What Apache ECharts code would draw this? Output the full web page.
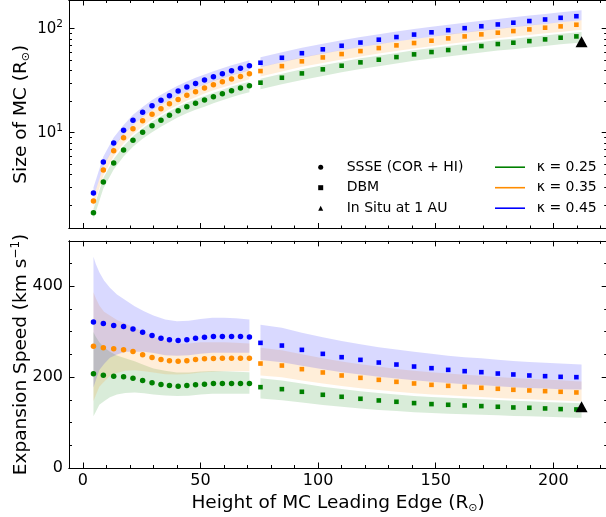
<!DOCTYPE html>
<html>
<head>
<meta charset="utf-8">
<script src="https://cdn.jsdelivr.net/npm/echarts@6/dist/echarts.min.js"></script>
<style>
  html, body { margin: 0; padding: 0; background: #fff; }
  #chart { width: 606px; height: 517px; }
</style>
</head>
<body>
<div id="chart"></div>
<script>
// ---- Heights of the MC leading edge (R_sun) ----
const xSsse = [4.5, 8.7, 13.1, 17.3, 21.3, 25.4, 29.4, 33.2, 36.8, 40.5, 44.2, 47.9, 51.7, 55.5, 59.3, 63.2, 67.0, 70.8];
const xDbm = [75.5, 84.6, 93.1, 102.0, 110.0, 118.0, 125.8, 133.3, 140.8, 148.2, 155.3, 162.3, 169.4, 176.4, 183.0, 189.8, 196.5, 203.1, 209.8];
const xInSitu = [212];

// ---- Size of MC (R_sun) ----
const sizeSsse25 = [1.70, 3.36, 5.11, 6.82, 8.45, 10.1, 11.7, 13.15, 14.7, 16.3, 17.8, 19.2, 20.6, 22.2, 23.7, 25.4, 26.9, 28.3];
const sizeSsse35 = [2.20, 4.38, 6.70, 8.93, 10.9, 13.05, 15.1, 17.0, 19.0, 20.9, 22.9, 24.8, 26.9, 28.9, 30.9, 32.8, 34.8, 36.9];
const sizeSsse45 = [2.63, 5.23, 7.96, 10.54, 13.15, 15.7, 18.2, 20.5, 22.7, 25.2, 27.5, 29.8, 32.1, 34.6, 36.9, 39.5, 41.6, 44.1];
const sizeDbm25 = [30.3, 33.8, 37.2, 40.7, 44.1, 47.5, 50.4, 53.4, 56.7, 59.7, 62.4, 65.2, 68.2, 71.3, 73.4, 76.1, 79.0, 82.0, 84.4];
const sizeDbm35 = [39.2, 43.7, 48.6, 53.0, 57.1, 61.0, 65.2, 69.2, 72.9, 76.7, 80.8, 84.4, 88.3, 91.6, 95.0, 98.6, 102.3, 105.4, 109.3];
const sizeDbm45 = [47.1, 52.6, 58.2, 63.4, 68.6, 73.7, 78.5, 83.2, 87.9, 92.4, 96.9, 101.3, 105.7, 110.0, 114.3, 118.6, 122.8, 127.4, 132.0];
const sizeInSitu = [75];

// ---- Expansion speed (km/s) ----
const speedSsse25 = [207.3, 204.4, 202.2, 200.7, 197.8, 192.7, 187.5, 183.9, 181.7, 180.2, 181.7, 183.2, 184.6, 186.1, 186.1, 186.1, 186.1, 186.1];
const speedSsse35 = [268.1, 264.5, 262.3, 260.1, 256.4, 249.1, 243.2, 238.8, 235.9, 235.2, 235.9, 238.8, 240.3, 241.0, 241.8, 241.8, 241.8, 241.8];
const speedSsse45 = [321.6, 318.0, 313.6, 311.4, 306.2, 298.9, 291.6, 285.7, 282.1, 280.6, 282.1, 285.7, 287.9, 289.4, 289.4, 289.4, 289.4, 288.6];
const speedDbm25 = [178.0, 173.6, 167.8, 161.2, 156.8, 152.4, 148.7, 145.8, 142.9, 140.7, 139.2, 137.7, 136.3, 134.8, 133.3, 132.6, 131.1, 129.7, 128.9];
const speedDbm35 = [230.0, 225.6, 217.6, 210.3, 203.7, 198.5, 194.1, 189.7, 186.1, 183.1, 180.9, 178.7, 176.6, 174.4, 172.2, 170.7, 169.2, 167.8, 166.3];
const speedDbm45 = [275.5, 269.6, 260.1, 251.3, 244.0, 238.1, 232.2, 227.8, 223.4, 219.8, 216.1, 213.2, 211.0, 208.0, 205.9, 203.7, 202.2, 200.7, 200.0];
const speedInSitu = [135];

// ---- Uncertainty envelopes ----
const bandXSsseSize = xSsse;
const bandXDbm = [75.5, 84.6, 93.1, 102.0, 110.0, 118.0, 125.8, 133.3, 140.8, 148.2, 155.3, 162.3, 169.4, 176.4, 183.0, 189.8, 196.5, 203.1, 209.8, 212.0];
const bandXSsseSpeed = [4.5, 5.5, 7, 9, 11.5, 14.5, 18, 22, 26, 30, 35, 40, 45, 50, 55, 60, 65, 70.8];

const sizeSsseHi25 = [1.86, 3.67, 5.59, 7.45, 9.24, 11.0, 12.8, 14.4, 16.1, 17.8, 19.5, 21.0, 22.5, 24.3, 25.9, 27.8, 29.4, 30.9];
const sizeSsseLo25 = [1.47, 2.91, 4.43, 5.91, 7.32, 8.75, 10.1, 11.4, 12.7, 14.1, 15.4, 16.6, 17.8, 19.2, 20.5, 22.0, 23.3, 24.5];
const sizeSsseHi35 = [2.40, 4.79, 7.32, 9.76, 11.9, 14.3, 16.5, 18.6, 20.8, 22.8, 25.0, 27.1, 29.4, 31.6, 33.8, 35.9, 38.0, 40.3];
const sizeSsseLo35 = [1.95, 3.88, 5.93, 7.90, 9.65, 11.5, 13.4, 15.0, 16.8, 18.5, 20.3, 21.9, 23.8, 25.6, 27.3, 29.0, 30.8, 32.7];
const sizeSsseHi45 = [2.97, 5.91, 8.99, 11.9, 14.9, 17.7, 20.6, 23.2, 25.7, 28.5, 31.1, 33.7, 36.3, 39.1, 41.7, 44.6, 47.0, 49.8];
const sizeSsseLo45 = [2.38, 4.73, 7.20, 9.54, 11.9, 14.2, 16.5, 18.6, 20.5, 22.8, 24.9, 27.0, 29.1, 31.3, 33.4, 35.7, 37.6, 39.9];

const sizeDbmHi25 = [33.1, 36.9, 40.7, 44.5, 48.2, 51.9, 55.1, 58.4, 62.0, 65.3, 68.2, 71.3, 74.5, 77.9, 80.2, 83.2, 86.3, 89.6, 92.2, 93.1];
const sizeDbmLo25 = [26.2, 29.3, 32.2, 35.2, 38.2, 41.1, 43.6, 46.2, 49.1, 51.7, 54.0, 56.5, 59.1, 61.7, 63.6, 65.9, 68.4, 71.0, 73.1, 73.8];
const sizeDbmHi35 = [42.8, 47.8, 53.1, 57.9, 62.4, 66.7, 71.3, 75.6, 79.7, 83.8, 88.3, 92.2, 96.5, 100.1, 103.8, 107.8, 111.8, 115.2, 119.5, 120.5];
const sizeDbmLo35 = [34.7, 38.7, 43.0, 46.9, 50.5, 54.0, 57.7, 61.2, 64.5, 67.9, 71.5, 74.7, 78.1, 81.1, 84.1, 87.3, 90.5, 93.3, 96.7, 97.5];
const sizeDbmHi45 = [53.2, 59.4, 65.8, 71.6, 77.5, 83.3, 88.7, 94.0, 99.3, 104.4, 109.5, 114.5, 119.4, 124.3, 129.2, 134.0, 138.8, 144.0, 149.2, 150.9];
const sizeDbmLo45 = [42.6, 47.6, 52.7, 57.4, 62.1, 66.7, 71.0, 75.3, 79.5, 83.6, 87.7, 91.7, 95.7, 99.6, 103.4, 107.3, 111.1, 115.3, 119.5, 120.8];

const speedSsseHi25 = [299.5, 289, 277, 266, 256, 247.5, 241.6, 235, 227, 219, 214, 210, 210.5, 212.5, 213.3, 213, 212, 211];
const speedSsseLo25 = [114, 124, 139, 147, 156, 161.6, 165.4, 166, 164.6, 162, 159.6, 158.4, 159.2, 161.6, 163.2, 163.7, 163.7, 163.7];
const speedSsseHi35 = [387, 374, 358, 344, 336, 326, 318, 309, 299, 289, 280, 274, 274, 277, 277, 277, 276, 274];
const speedSsseLo35 = [147, 160, 179, 190, 202.5, 209, 214, 215, 213, 210, 206.6, 205.8, 207, 210, 212, 213, 213, 213];
const speedSsseHi45 = [465, 449, 431, 413, 397, 382, 370, 356, 345, 336, 327, 323, 324, 328, 331, 331, 329.5, 327];
const speedSsseLo45 = [177, 193, 216, 229, 243, 250, 256, 256, 256, 253, 248, 247, 248, 251.5, 254, 254, 254, 254];

const speedDbmHi25 = [197.6, 192.7, 186.3, 178.9, 174, 169.2, 165.1, 161.8, 158.6, 156.2, 154.5, 152.8, 151.3, 149.6, 148, 147.2, 145.5, 144, 143.1, 142.7];
const speedDbmLo25 = [153.1, 149.3, 144.3, 138.6, 134.8, 131.1, 127.9, 125.4, 122.9, 121, 119.7, 118.4, 117.2, 115.9, 114.6, 114, 112.7, 111.5, 110.9, 110.6];
const speedDbmHi35 = [264.5, 259.4, 250.2, 241.8, 234.3, 228.3, 223.2, 218.2, 214, 210.6, 208, 205.5, 203.1, 200.6, 198, 196.3, 194.6, 193, 191.2, 190.7];
const speedDbmLo35 = [203.6, 199.7, 192.6, 186.1, 180.3, 175.7, 171.8, 167.9, 164.7, 162, 160.1, 158.1, 156.3, 154.3, 152.4, 151.1, 149.7, 148.5, 147.2, 146.7];
const speedDbmHi45 = [315.4, 308.7, 297.7, 287.7, 279.4, 272.6, 265.9, 260.8, 255.8, 251.7, 247.4, 244.1, 241.6, 238.2, 235.8, 233.2, 231.5, 229.8, 228.5, 228];
const speedDbmLo45 = [238, 233, 225, 217.4, 211, 206, 201, 197, 193.2, 190, 187, 184.4, 182.5, 180, 178, 176.2, 175, 173.6, 173, 172.7];

// ---- Tick positions ----
const xMajorTicks = [0, 50, 100, 150, 200];
const xMinorTicks = [10, 20, 30, 40, 60, 70, 80, 90, 110, 120, 130, 140, 160, 170, 180, 190, 210, 220];
const sizeMajorTicks = [10, 100];
const sizeMinorTicks = [2, 3, 4, 5, 6, 7, 8, 9, 20, 30, 40, 50, 60, 70, 80, 90];
const speedMajorTicks = [0, 200, 400];
const speedMinorTicks = [50, 100, 150, 250, 300, 350, 450];

const kappaNames = ['\u03ba = 0.25', '\u03ba = 0.35', '\u03ba = 0.45'];
const FONT = 'DejaVu Sans';
const GREEN = '0,128,0', ORANGE = '255,140,0', BLUE = '0,0,255';

const X_MIN = -5.9, X_MAX = 222.9;
const SIZE_MIN = 1.2, SIZE_MAX = 189;
const SPEED_MIN = 0, SPEED_MAX = 500;

const chart = echarts.init(document.getElementById('chart'), null, { renderer: 'canvas' });

const tickLine = { color: '#000', width: 1 };
const frameLine = { show: true, onZero: false, lineStyle: { color: '#000', width: 1 } };

function xAxisDef(gridIndex, position, ticks, len, labels, name) {
  const ax = {
    type: 'value', gridIndex, position, min: X_MIN, max: X_MAX,
    axisLine: frameLine,
    axisTick: { show: true, inside: true, length: len, customValues: ticks, lineStyle: tickLine },
    axisLabel: labels
      ? { show: true, customValues: ticks, margin: 5, fontFamily: FONT, fontSize: 16, color: '#000' }
      : { show: false },
    splitLine: { show: false }
  };
  if (name) {
    ax.name = name;
    ax.nameLocation = 'middle';
    ax.nameGap = 24;
    ax.nameMoveOverlap = false;
    ax.nameTextStyle = {
      fontFamily: FONT, fontSize: 18.5, color: '#000', lineHeight: 22,
      rich: { sub: { fontFamily: FONT, fontSize: 11, lineHeight: 11, verticalAlign: 'bottom', color: '#000' } }
    };
  }
  return ax;
}

function yAxisDef(gridIndex, position, type, min, max, ticks, len, label, name) {
  const ax = {
    type, gridIndex, position, min, max,
    axisLine: frameLine,
    axisTick: { show: true, inside: true, length: len, customValues: ticks, lineStyle: tickLine },
    axisLabel: label ? Object.assign({ show: true, customValues: ticks, margin: 6, fontFamily: FONT, fontSize: 16, color: '#000' }, label) : { show: false },
    splitLine: { show: false }
  };
  if (type === 'log') ax.logBase = 10;
  if (name) {
    ax.name = name;
    ax.nameLocation = 'middle';
    ax.nameGap = 37;
    ax.nameMoveOverlap = false;
    ax.nameTextStyle = {
      fontFamily: FONT, fontSize: 18.5, color: '#000', lineHeight: 22,
      rich: {
        sub: { fontFamily: FONT, fontSize: 11, lineHeight: 11, verticalAlign: 'bottom', color: '#000' },
        sup: { fontFamily: FONT, fontSize: 12, lineHeight: 12, verticalAlign: 'top', color: '#000' }
      }
    };
  }
  return ax;
}

// shaded envelope between lower and upper curves, one polygon per segment
function bandSeries(name, rgb, segments, axisIndex) {
  return {
    type: 'custom', name, xAxisIndex: axisIndex, yAxisIndex: axisIndex, silent: true,
    itemStyle: { color: 'rgb(' + rgb + ')' },
    data: segments.map((s, i) => [s.x[0], s.lo[0], i]),
    encode: { x: 0, y: 1 },
    renderItem(params, api) {
      const s = segments[api.value(2)];
      const pts = [];
      for (let k = 0; k < s.x.length; k++) pts.push(api.coord([s.x[k], s.hi[k]]));
      for (let k = s.x.length - 1; k >= 0; k--) pts.push(api.coord([s.x[k], s.lo[k]]));
      return { type: 'polygon', shape: { points: pts }, style: { fill: 'rgba(' + rgb + ',0.15)', stroke: null } };
    }
  };
}

function markerSeries(xs, ys, rgb, symbol, size, axisIndex, name) {
  return {
    type: 'scatter', name, xAxisIndex: axisIndex, yAxisIndex: axisIndex, silent: true,
    symbol, symbolSize: size, itemStyle: { color: 'rgb(' + rgb + ')', opacity: 1 },
    data: xs.map((x, i) => [x, ys[i]])
  };
}

const legendText = { fontFamily: FONT, fontSize: 14, color: '#000', lineHeight: 14 };

const option = {
  animation: false,
  backgroundColor: '#fff',
  grid: [
    { left: 69, top: 0, width: 538.2, height: 228.5, outerBoundsMode: 'none' },
    { left: 69, top: 240.9, width: 538.2, height: 227.1, outerBoundsMode: 'none' }
  ],
  xAxis: [
    xAxisDef(0, 'bottom', xMajorTicks, 5.5, false),
    xAxisDef(0, 'top', xMajorTicks, 5.5, false),
    xAxisDef(0, 'bottom', xMinorTicks, 3, false),
    xAxisDef(0, 'top', xMinorTicks, 3, false),
    xAxisDef(1, 'bottom', xMajorTicks, 5.5, true, 'Height of MC Leading Edge (R{sub|\u2299})'),
    xAxisDef(1, 'top', xMajorTicks, 5.5, false),
    xAxisDef(1, 'bottom', xMinorTicks, 3, false),
    xAxisDef(1, 'top', xMinorTicks, 3, false)
  ],
  yAxis: [
    yAxisDef(0, 'left', 'log', SIZE_MIN, SIZE_MAX, sizeMajorTicks, 5.5, {
      fontSize: 15, lineHeight: 20,
      formatter: v => '{b|10}{s|' + Math.round(Math.log10(v)) + '}',
      rich: {
        b: { fontFamily: FONT, fontSize: 15, lineHeight: 20, color: '#000' },
        s: { fontFamily: FONT, fontSize: 10.5, lineHeight: 10.5, verticalAlign: 'top', color: '#000' }
      }
    }, 'Size of MC (R{sub|\u2299})'),
    yAxisDef(0, 'right', 'log', SIZE_MIN, SIZE_MAX, sizeMajorTicks, 5.5, null),
    yAxisDef(0, 'left', 'log', SIZE_MIN, SIZE_MAX, sizeMinorTicks, 3, null),
    yAxisDef(0, 'right', 'log', SIZE_MIN, SIZE_MAX, sizeMinorTicks, 3, null),
    yAxisDef(1, 'left', 'value', SPEED_MIN, SPEED_MAX, speedMajorTicks, 5.5, {}, 'Expansion Speed (km s{sup|\u22121})'),
    yAxisDef(1, 'right', 'value', SPEED_MIN, SPEED_MAX, speedMajorTicks, 5.5, null),
    yAxisDef(1, 'left', 'value', SPEED_MIN, SPEED_MAX, speedMinorTicks, 3, null),
    yAxisDef(1, 'right', 'value', SPEED_MIN, SPEED_MAX, speedMinorTicks, 3, null)
  ],
  legend: [
    {
      orient: 'vertical', left: 318.2, top: 160.2, padding: 0, itemGap: 6.5,
      itemWidth: 5, itemHeight: 5, selectedMode: false,
      textStyle: Object.assign({ padding: [0, 0, 0, 18.5] }, legendText),
      data: [
        { name: 'SSSE (COR + HI)', icon: 'circle' },
        { name: 'DBM', icon: 'rect' },
        { name: 'In Situ at 1 AU', icon: 'triangle' }
      ]
    },
    {
      orient: 'vertical', left: 495, top: 160.2, padding: 0, itemGap: 6.5,
      itemWidth: 30, itemHeight: 1.6, selectedMode: false,
      textStyle: Object.assign({ padding: [0, 0, 0, 6.7] }, legendText),
      data: kappaNames.map(n => ({ name: n, icon: 'rect' }))
    }
  ],
  series: [
    // size panel envelopes
    bandSeries(kappaNames[0], GREEN, [
      { x: bandXSsseSize, hi: sizeSsseHi25, lo: sizeSsseLo25 },
      { x: bandXDbm, hi: sizeDbmHi25, lo: sizeDbmLo25 }], 0),
    bandSeries(kappaNames[1], ORANGE, [
      { x: bandXSsseSize, hi: sizeSsseHi35, lo: sizeSsseLo35 },
      { x: bandXDbm, hi: sizeDbmHi35, lo: sizeDbmLo35 }], 0),
    bandSeries(kappaNames[2], BLUE, [
      { x: bandXSsseSize, hi: sizeSsseHi45, lo: sizeSsseLo45 },
      { x: bandXDbm, hi: sizeDbmHi45, lo: sizeDbmLo45 }], 0),
    // speed panel envelopes
    bandSeries(kappaNames[0], GREEN, [
      { x: bandXSsseSpeed, hi: speedSsseHi25, lo: speedSsseLo25 },
      { x: bandXDbm, hi: speedDbmHi25, lo: speedDbmLo25 }], 4),
    bandSeries(kappaNames[1], ORANGE, [
      { x: bandXSsseSpeed, hi: speedSsseHi35, lo: speedSsseLo35 },
      { x: bandXDbm, hi: speedDbmHi35, lo: speedDbmLo35 }], 4),
    bandSeries(kappaNames[2], BLUE, [
      { x: bandXSsseSpeed, hi: speedSsseHi45, lo: speedSsseLo45 },
      { x: bandXDbm, hi: speedDbmHi45, lo: speedDbmLo45 }], 4),

    // size panel markers
    markerSeries(xSsse, sizeSsse25, GREEN, 'circle', 5.5, 0),
    markerSeries(xSsse, sizeSsse35, ORANGE, 'circle', 5.5, 0),
    markerSeries(xSsse, sizeSsse45, BLUE, 'circle', 5.5, 0),
    markerSeries(xDbm, sizeDbm25, GREEN, 'rect', 4.6, 0),
    markerSeries(xDbm, sizeDbm35, ORANGE, 'rect', 4.6, 0),
    markerSeries(xDbm, sizeDbm45, BLUE, 'rect', 4.6, 0),
    markerSeries(xInSitu, sizeInSitu, '0,0,0', 'triangle', [12, 11], 0, 'In Situ at 1 AU'),

    // speed panel markers
    markerSeries(xSsse, speedSsse25, GREEN, 'circle', 5.5, 4),
    markerSeries(xSsse, speedSsse35, ORANGE, 'circle', 5.5, 4),
    markerSeries(xSsse, speedSsse45, BLUE, 'circle', 5.5, 4),
    markerSeries(xDbm, speedDbm25, GREEN, 'rect', 4.6, 4),
    markerSeries(xDbm, speedDbm35, ORANGE, 'rect', 4.6, 4),
    markerSeries(xDbm, speedDbm45, BLUE, 'rect', 4.6, 4),
    markerSeries(xInSitu, speedInSitu, '0,0,0', 'triangle', [12, 11], 4, 'In Situ at 1 AU'),

    // legend keys for the two measurement methods
    markerSeries([], [], '0,0,0', 'circle', 5, 0, 'SSSE (COR + HI)'),
    markerSeries([], [], '0,0,0', 'rect', 5, 0, 'DBM')
  ]
};

chart.setOption(option);
</script>
</body>
</html>
